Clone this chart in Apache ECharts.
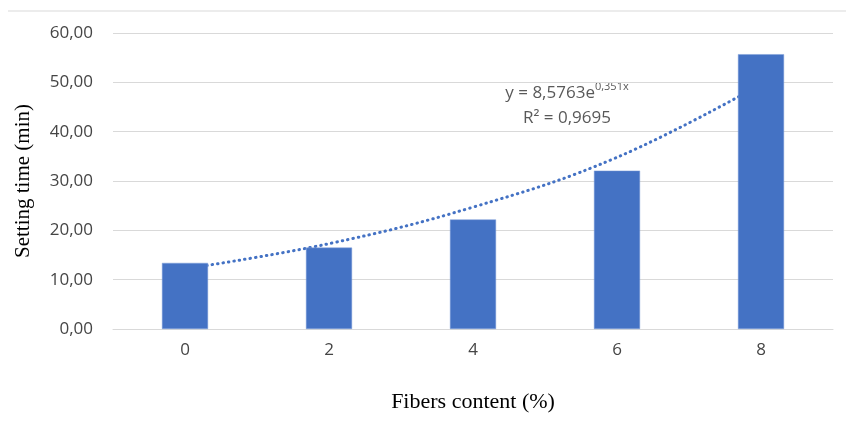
<!DOCTYPE html>
<html>
<head>
<meta charset="utf-8">
<script src="https://cdn.jsdelivr.net/npm/echarts@6/dist/echarts.min.js"></script>
<style>
  html, body { margin: 0; padding: 0; background: #fff; }
  #chart { width: 846px; height: 435px; }
</style>
</head>
<body>
<div id="chart"></div>
<script>
// fibre content categories (%)
const categories = ['0', '2', '4', '6', '8']
// setting time (min)
const settingTime = [13.4, 16.5, 22.2, 32.1, 55.7]
// exponential trendline at each category
const trendValues = [12.2, 17.3, 24.7, 34.8, 49.6]
const yTicks = { min: 0, max: 60, interval: 10 }

const chart = echarts.init(document.getElementById('chart'))

const labelFont = 'Open Sans'
const titleFont = 'Liberation Serif'
const labelColor = '#454545'

const option = {
  animation: false,
  grid: { left: 113, right: 13, top: 33, bottom: 106 },
  xAxis: {
    type: 'category',
    data: categories,
    axisLine: { lineStyle: { color: '#d9d9d9', width: 1 } },
    axisTick: { show: false },
    axisLabel: { color: labelColor, fontSize: 17, fontFamily: labelFont, margin: 13 },
    name: 'Fibers content (%)',
    nameLocation: 'middle',
    nameGap: 62,
    nameTextStyle: { color: '#000', fontSize: 22, fontFamily: titleFont }
  },
  yAxis: {
    type: 'value',
    min: yTicks.min,
    max: yTicks.max,
    interval: yTicks.interval,
    axisLine: { show: false },
    axisTick: { show: false },
    splitLine: { lineStyle: { color: '#d9d9d9', width: 1 } },
    axisLabel: {
      color: labelColor,
      fontSize: 17,
      fontFamily: labelFont,
      margin: 20,
      formatter: v => v.toFixed(2).replace('.', ',')
    },
    name: 'Setting time (min)',
    nameLocation: 'middle',
    nameGap: 79,
    nameTextStyle: { color: '#000', fontSize: 21, fontFamily: titleFont }
  },
  series: [
    {
      type: 'line',
      data: trendValues,
      smooth: 0.4,
      symbol: 'none',
      z: 1,
      lineStyle: { color: '#4472c4', width: 3, type: [0.5, 5], cap: 'round' }
    },
    {
      type: 'bar',
      data: settingTime,
      barWidth: '32%',
      z: 2,
      itemStyle: { color: '#4472c4', borderColor: '#7f9fd8', borderWidth: 0.5 }
    }
  ],
  graphic: [
    {
      type: 'line',
      shape: { x1: 8, y1: 11, x2: 846, y2: 11 },
      style: { stroke: '#d9d9d9', lineWidth: 1 }
    },
    {
      type: 'text',
      x: 567,
      y: 93,
      style: {
        text: '{a|y = 8,5763e}{s|0,351x}',
        align: 'center',
        verticalAlign: 'middle',
        rich: {
          a: { fontSize: 17, fontFamily: labelFont, fill: '#595959' },
          s: { fontSize: 11, fontFamily: labelFont, fill: '#595959', padding: [0, 0, 12, 0] }
        }
      }
    },
    {
      type: 'text',
      x: 567,
      y: 118,
      style: {
        text: 'R² = 0,9695',
        align: 'center',
        verticalAlign: 'middle',
        fontSize: 17,
        fontFamily: labelFont,
        fill: '#595959'
      }
    }
  ]
}

chart.setOption(option)
</script>
</body>
</html>
